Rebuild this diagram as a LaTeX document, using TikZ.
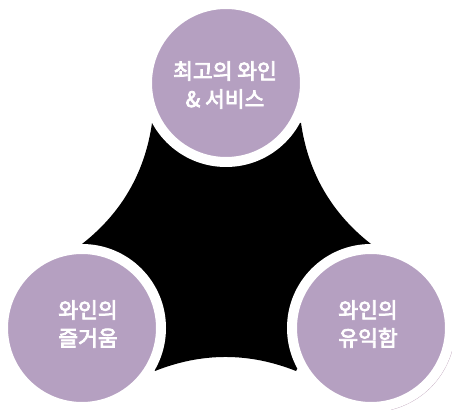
\documentclass[tikz,border=0pt]{standalone}
\usepackage{fontspec}
\newfontfamily\kr{Noto Sans CJK KR}[FakeBold=3.5]
\definecolor{wine}{RGB}{181,160,193}
\definecolor{rim}{RGB}{170,135,165}
\tikzset{
  bubble/.style={circle,fill=wine,draw=white,line width=10pt,minimum size=158pt,inner sep=0pt},
  caption/.style={font=\kr\fontsize{21.5}{28}\selectfont,text=white,align=center,inner sep=0pt},
  blob/.style={fill=black,draw=none}
}
\begin{document}
\begin{tikzpicture}[x=1pt,y=-1pt]
\useasboundingbox (0,0) rectangle (452,411);
% black curved triangle
\coordinate (TL) at (152,123);
\coordinate (TR) at (301,123);
\coordinate (R) at (371,244);
\coordinate (BR) at (296,371);
\coordinate (BL) at (155,371);
\coordinate (L) at (82,244);
\path[blob] (L) .. controls (121.5,213.1) and (144.9,172.7) .. (TL)
  -- (TR) .. controls (308.1,172.7) and (331.5,213.1) .. (R)
  -- (BR) .. controls (249,352.3) and (202,352.3) .. (BL) -- cycle;
% faint rim
\draw[rim,line width=0.8pt,opacity=0.7] (371,328) ++(76:84) arc[start angle=76,end angle=5,radius=84];
% circles
\node[bubble] (top) at (226,83) {};
\node[bubble] (left) at (82,328) {};
\node[bubble] (right) at (371,328) {};
% texts
\node[caption] (t1) at (225,85) {최고의 와인\\\& 서비스};
\node[caption] (t2) at (88,324) {와인의\\즐거움};
\node[caption] (t3) at (368,324) {와인의\\유익함};
\end{tikzpicture}
\end{document}
